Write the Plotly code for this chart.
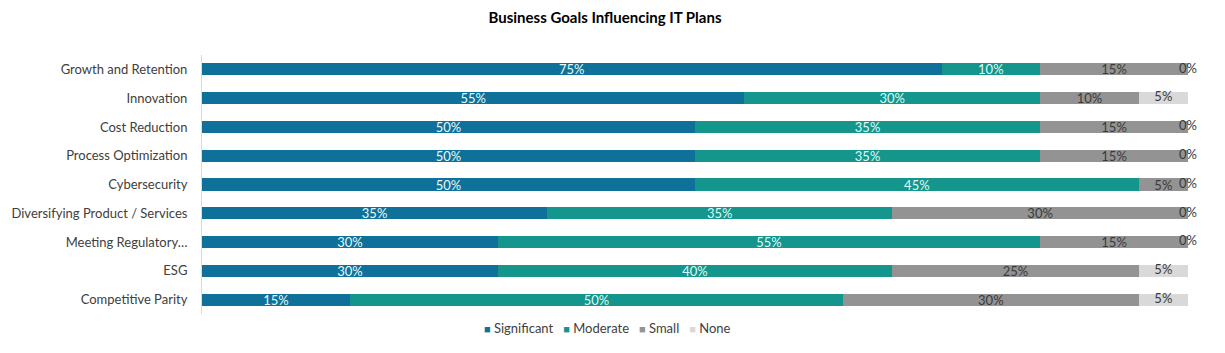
import plotly.graph_objects as go

categories = ["Growth and Retention", "Innovation", "Cost Reduction", "Process Optimization",
              "Cybersecurity", "Diversifying Product / Services", "Meeting Regulatory…",
              "ESG", "Competitive Parity"]
significant = [75, 55, 50, 50, 50, 35, 30, 30, 15]
moderate = [10, 30, 35, 35, 45, 35, 55, 40, 50]
small = [15, 10, 15, 15, 5, 30, 15, 25, 30]
none = [0, 5, 0, 0, 0, 0, 0, 5, 5]

series = [
    ("Significant", significant, "#0F7199", "#E6FAFA"),
    ("Moderate", moderate, "#14968C", "#DDFBFB"),
    ("Small", small, "#939393", "#3A3A3A"),
]
none_color = "#D9D9D9"

FONT = "Lato, Carlito, Calibri, sans-serif"
FS = 13
fig = go.Figure()
for name, vals, color, tcolor in series:
    fig.add_trace(go.Bar(
        y=categories, x=[v / 100 for v in vals], name=name, orientation="h",
        marker=dict(color=color, line=dict(width=0)),
        text=[f"{v}%" for v in vals], textposition="inside", insidetextanchor="middle",
        textfont=dict(color=tcolor, size=FS, family=FONT), hoverinfo="skip",
        cliponaxis=False,
    ))

fig.add_trace(go.Bar(
    y=categories, x=[v / 100 for v in none], name="None", orientation="h",
    marker=dict(color=none_color, line=dict(width=0)), hoverinfo="skip",
))
starts = [(s + m + sm) / 100 for s, m, sm in zip(significant, moderate, small)]
fig.add_trace(go.Scatter(
    y=categories, x=[st + n / 200 for st, n in zip(starts, none)], mode="text",
    text=[f"{v}%" for v in none], textposition="middle center",
    textfont=dict(color="#3A3A3A", size=FS, family=FONT), showlegend=False,
    hoverinfo="skip", cliponaxis=False,
))

legend_items = [(n, c) for n, _, c, _ in series] + [("None", none_color)]
legend_text = "   ".join(
    f'<span style="color:{c}; font-size:11px">■</span> {n}' for n, c in legend_items)
fig.add_annotation(
    text=legend_text, xref="paper", yref="paper", x=(607 - 202) / 986, y=(353 - 328 - 39) / 259,
    xanchor="center", yanchor="middle", showarrow=False,
    font=dict(size=FS, color="#404040", family=FONT),
)

fig.update_layout(
    width=1225, height=353, barmode="stack", bargap=0.58,
    margin=dict(l=202, r=37, t=55, b=39),
    paper_bgcolor="white", plot_bgcolor="white",
    font=dict(family=FONT, size=FS, color="#404040"),
    title=dict(text="<b>Business Goals Influencing IT Plans</b>", x=605 / 1225, xanchor="center",
               y=(353 - 18) / 353, yanchor="middle", font=dict(size=15, color="#000000", family=FONT)),
    xaxis=dict(range=[0, 1], visible=False, fixedrange=True),
    yaxis=dict(autorange="reversed", showline=True, linecolor="#D9D9D9", linewidth=1,
               ticks="", ticklabelstandoff=11, tickfont=dict(size=FS, color="#404040"),
               showgrid=False, zeroline=False),
    uniformtext=dict(minsize=FS, mode="show"),
    showlegend=False,
)

fig.write_html("out.html")
